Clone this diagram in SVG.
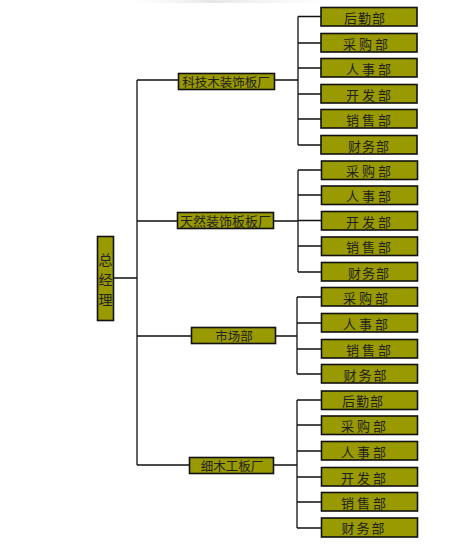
<svg xmlns="http://www.w3.org/2000/svg" width="472" height="545" viewBox="0 0 472 545">
<style>
.box{fill:#999900;stroke:#111;stroke-width:1.6}
.t{font-family:"Noto Sans CJK SC","Noto Sans CJK JP",sans-serif;fill:#222;text-anchor:middle;dominant-baseline:central}
.d{font-size:13px;letter-spacing:3px}
.m{font-size:12.5px}
.v{font-size:14px}
.c{fill:none;stroke:#111;stroke-width:1.3}
</style>
<defs>
<linearGradient id="sh" x1="0" y1="0" x2="1" y2="0">
<stop offset="0" stop-color="#f2f2f2" stop-opacity="0"/>
<stop offset="0.4" stop-color="#e6e6e6"/>
<stop offset="1" stop-color="#f2f2f2" stop-opacity="0"/>
</linearGradient>
</defs>
<rect x="130" y="0" width="205" height="3" fill="url(#sh)"/>
<g id="connectors" class="c">
<path d="M137 80V465M113 278H137M137 80H178M137 221H177M137 336H191M137 465H189"/>
<path d="M274 80H298M298 16.5V145M298 16.5H321M298 43H321M298 68H321M298 94H321M298 119H321M298 145H321"/>
<path d="M274 221H298M298 170V272M298 170H321M298 195H321M298 220.5H321M298 246H321M298 272H321"/>
<path d="M275 336H297M297 297V374M297 297H321M297 323H321M297 349H321M297 374H321"/>
<path d="M273 465H297M297 400V528M297 400H321M297 425H321M297 451H321M297 477H321M297 502H321M297 528H321"/>
</g>
<g id="ceo"><rect class="box" x="97.5" y="236.5" width="16" height="84"/>
<text class="t v" x="105.5" y="259">总</text><text class="t v" x="105.5" y="279">经</text><text class="t v" x="105.5" y="299">理</text></g>
<g id="f1"><rect class="box" x="178.5" y="73.5" width="96" height="16"/><text class="t m" x="226" y="81.5">科技木装饰板厂</text></g>
<g id="f2"><rect class="box" x="177.5" y="212.5" width="96" height="16"/><text class="t" style="font-size:13px" x="225.5" y="220.5">天然装饰板板厂</text></g>
<g id="f3"><rect class="box" x="191.5" y="327.5" width="84" height="16"/><text class="t m" x="234" y="335.5">市场部</text></g>
<g id="f4"><rect class="box" x="189.5" y="457.5" width="84" height="16"/><text class="t m" x="232" y="465.5">细木工板厂</text></g>
<g id="g1a"><rect class="box" x="321" y="7.5" width="96" height="18.5"/><text class="t" style="font-size:13px;letter-spacing:1px" x="365" y="17">后勤部</text></g>
<g id="g1b"><rect class="box" x="321" y="33.5" width="96" height="18.5"/><text class="t d" x="367" y="43">采购部</text></g>
<g id="g1c"><rect class="box" x="321" y="58.5" width="96" height="18.5"/><text class="t d" x="370" y="68">人事部</text></g>
<g id="g1d"><rect class="box" x="321" y="84.5" width="96" height="18.5"/><text class="t d" x="370" y="94">开发部</text></g>
<g id="g1e"><rect class="box" x="321" y="109.5" width="96" height="18.5"/><text class="t d" x="370" y="119">销售部</text></g>
<g id="g1f"><rect class="box" x="321" y="135.5" width="96" height="18.5"/><text class="t" style="font-size:13px;letter-spacing:1px" x="369" y="145">财务部</text></g>
<g id="g2a"><rect class="box" x="321.5" y="161" width="96" height="18.5"/><text class="t d" x="370" y="170.5">采购部</text></g>
<g id="g2b"><rect class="box" x="321.5" y="186" width="96" height="18.5"/><text class="t d" x="370" y="195.5">人事部</text></g>
<g id="g2c"><rect class="box" x="321.5" y="211.5" width="96" height="18.5"/><text class="t d" x="370" y="221">开发部</text></g>
<g id="g2d"><rect class="box" x="321.5" y="237" width="96" height="18.5"/><text class="t d" x="370" y="246.5">销售部</text></g>
<g id="g2e"><rect class="box" x="321.5" y="262.5" width="96" height="18.5"/><text class="t" style="font-size:13px;letter-spacing:1px" x="369" y="272">财务部</text></g>
<g id="g3a"><rect class="box" x="321.5" y="287.5" width="96" height="18.5"/><text class="t d" x="367" y="297">采购部</text></g>
<g id="g3b"><rect class="box" x="321.5" y="313.5" width="96" height="18.5"/><text class="t d" x="367" y="323">人事部</text></g>
<g id="g3c"><rect class="box" x="321.5" y="339.5" width="96" height="18.5"/><text class="t d" x="370" y="349">销售部</text></g>
<g id="g3d"><rect class="box" x="321.5" y="364.5" width="96" height="18.5"/><text class="t" style="font-size:13px;letter-spacing:2px" x="366" y="374">财务部</text></g>
<g id="g4a"><rect class="box" x="321.5" y="391" width="96" height="18.5"/><text class="t" style="font-size:13px;letter-spacing:1px" x="363" y="400.5">后勤部</text></g>
<g id="g4b"><rect class="box" x="321.5" y="416" width="96" height="18.5"/><text class="t d" x="365" y="425.5">采购部</text></g>
<g id="g4c"><rect class="box" x="321.5" y="441.5" width="96" height="18.5"/><text class="t d" x="365" y="451">人事部</text></g>
<g id="g4d"><rect class="box" x="321.5" y="467.5" width="96" height="18.5"/><text class="t d" x="365" y="477">开发部</text></g>
<g id="g4e"><rect class="box" x="321.5" y="492.5" width="96" height="18.5"/><text class="t d" x="365" y="502">销售部</text></g>
<g id="g4f"><rect class="box" x="321.5" y="518" width="96" height="19"/><text class="t" style="font-size:13px;letter-spacing:2px" x="364" y="527.5">财务部</text></g>
</svg>
